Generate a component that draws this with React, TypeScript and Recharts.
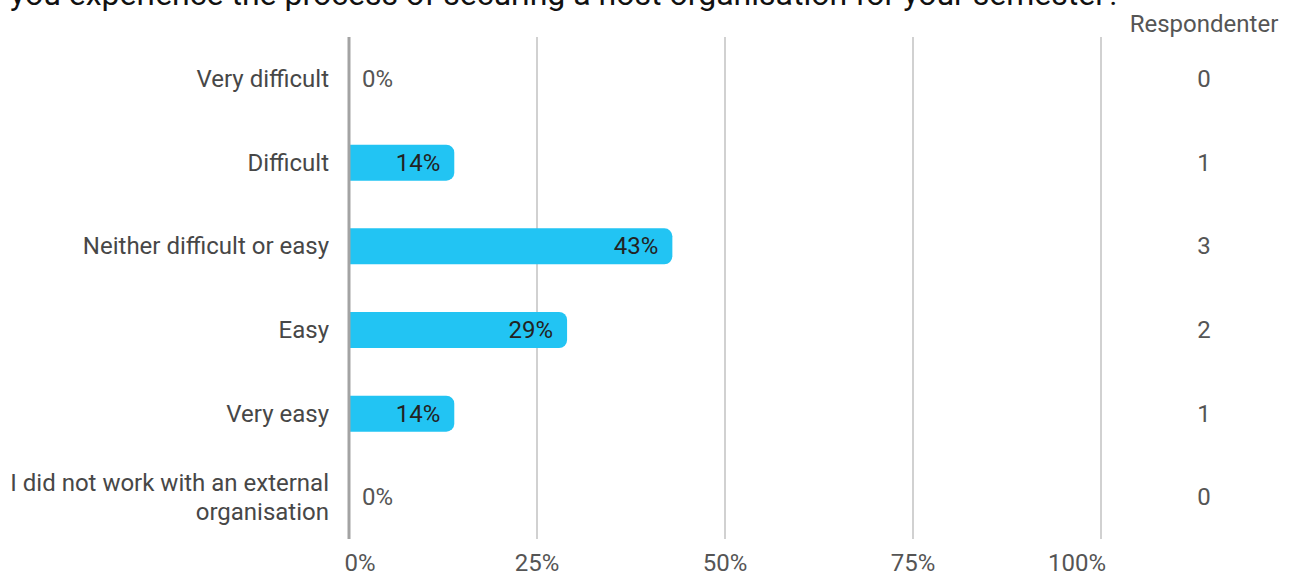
import React from 'react';
import { BarChart, Bar, XAxis, YAxis, CartesianGrid, LabelList, Rectangle } from 'recharts';

const titleText = 'you experience the process of securing a host organisation for your semester?';
const headerText = 'Respondenter';
const categories = [
  'Very difficult',
  'Difficult',
  'Neither difficult or easy',
  'Easy',
  'Very easy',
  'I did not work with an external organisation',
];
const shares = [0, 14, 43, 29, 14, 0];
const shareLabels = ['0%', '14%', '43%', '29%', '14%', '0%'];
const counts = [0, 1, 3, 2, 1, 0];
const xTicks = [0, 25, 50, 75, 100];
const xTickLabels = ['0%', '25%', '50%', '75%', '100%'];

const data = categories.map((name, i) => ({ name, share: shares[i], label: shareLabels[i], count: counts[i] }));

const FONT = 'Roboto, "Noto Sans", sans-serif';
const FS = 24;

const wrapLines = (s: string): string[] => {
  if (s.length <= 30) return [s];
  const words = s.split(' ');
  const lines: string[] = [];
  let cur = '';
  words.forEach((w) => {
    const next = cur ? cur + ' ' + w : w;
    if (next.length > 31 && cur) {
      lines.push(cur);
      cur = w;
    } else cur = next;
  });
  if (cur) lines.push(cur);
  return lines;
};

const CategoryTick = (props: any) => {
  const { x, y, payload } = props;
  const lines = wrapLines(String(payload.value));
  const lh = 29;
  const start = -((lines.length - 1) * lh) / 2;
  return (
    <text x={x - 20} y={y} textAnchor="end" fill="#474747" fontSize={FS} fontFamily={FONT}>
      {lines.map((l, i) => (
        <tspan key={i} x={x - 20} y={y + start + i * lh} dominantBaseline="central">
          {l}
        </tspan>
      ))}
    </text>
  );
};

const CountTick = (props: any) => {
  const { x, y, payload, index } = props;
  const idx = categories.indexOf(payload?.value);
  return (
    <text x={x + 103} y={y} textAnchor="middle" dominantBaseline="central" fill="#555" fontSize={FS} fontFamily={FONT}>
      {counts[idx >= 0 ? idx : index]}
    </text>
  );
};

const XTick = (props: any) => {
  const { x, y, payload, index } = props;
  const i = xTicks.indexOf(payload.value);
  const dx = i === 0 ? 11 : i === xTicks.length - 1 ? -24 : 0;
  return (
    <text x={x + dx} y={y + 15} dy="0.71em" textAnchor="middle" fill="#555" fontSize={FS} fontFamily={FONT}>
      {xTickLabels[i >= 0 ? i : index]}
    </text>
  );
};

const BarShape = (props: any) => {
  const { payload } = props;
  if (!payload || payload.share <= 0) return <g />;
  return <Rectangle {...props} />;
};

const BarLabel = (props: any) => {
  const { x, y, width, height, value } = props;
  const cy = y + height / 2;
  if (width > 3) {
    return (
      <text x={x + width - 14} y={cy} textAnchor="end" dominantBaseline="central" fill="#222" fontSize={FS} fontFamily={FONT}>
        {value}
      </text>
    );
  }
  return (
    <text x={x + 13} y={cy} textAnchor="start" dominantBaseline="central" fill="#555" fontSize={FS} fontFamily={FONT}>
      {value}
    </text>
  );
};

export default function App() {
  return (
    <div style={{ position: 'absolute', left: 0, top: 0, width: 1295, height: 576, overflow: 'hidden', background: '#fff' }}>
      <BarChart
        width={1295}
        height={576}
        data={data}
        layout="vertical"
        margin={{ top: 37, right: 0, bottom: 0, left: 0 }}
        barCategoryGap={0}
      >
        <CartesianGrid horizontal={false} vertical={true} stroke="#a3a3a3" strokeWidth={1} />
        <XAxis
          type="number"
          dataKey="share"
          domain={[0, 100]}
          ticks={xTicks}
          axisLine={false}
          tickLine={false}
          tickSize={0}
          tickMargin={0}
          tick={<XTick />}
          interval={0}
          height={37}
        />
        <YAxis
          type="category"
          dataKey="name"
          width={349}
          axisLine={{ stroke: '#a3a3a3', strokeWidth: 3 }}
          tickLine={false}
          tickSize={0}
          tickMargin={0}
          tick={<CategoryTick />}
          interval={0}
        />
        <YAxis
          yAxisId="right"
          type="category"
          dataKey="name"
          orientation="right"
          width={194}
          axisLine={false}
          tickLine={false}
          tickSize={0}
          tickMargin={0}
          tick={<CountTick />}
          interval={0}
        />
        <Bar
          dataKey="share"
          fill="#22c4f3"
          barSize={36}
          radius={[0, 8, 8, 0]}
          minPointSize={1}
          shape={<BarShape />}
          isAnimationActive={false}
        >
          <LabelList dataKey="label" content={<BarLabel />} />
        </Bar>
      </BarChart>
      <svg width={1295} height={576} style={{ position: 'absolute', left: 0, top: 0, pointerEvents: 'none' }}>
        <text x={10} y={5} fill="#111" fontSize={32} fontFamily={FONT}>
          {titleText}
        </text>
        <text x={1204} y={24} textAnchor="middle" dominantBaseline="central" fill="#555" fontSize={FS} fontFamily={FONT}>
          {headerText}
        </text>
      </svg>
    </div>
  );
}
